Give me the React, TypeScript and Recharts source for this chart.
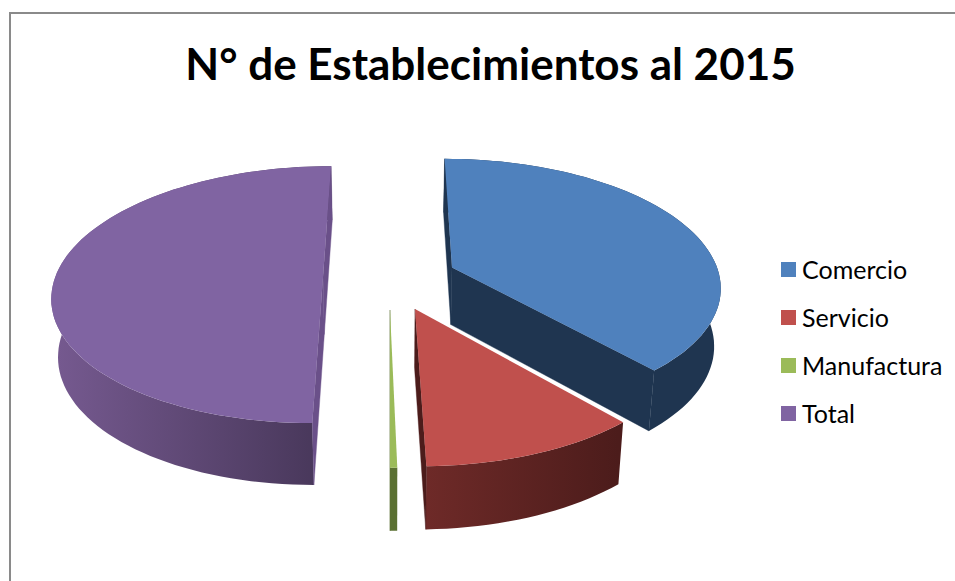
import { Legend, Pie, PieChart } from 'recharts'

const categories = ['Comercio', 'Servicio', 'Manufactura', 'Total']
const values = [38.5, 11.14, 0.36, 50]
const topColors = ['#4f81bd', '#c0504d', '#9bbb59', '#8064a2']
const wallLeft = ['#1f3550', '#6e2a28', '#5a7032', '#75598f']
const wallRight = ['#1f3550', '#4c1c1b', '#5a7032', '#463658']
const cutColors = ['#1f3550', '#4c1c1b', '#5a7032', '#6a5089']
// where each slice's point sits on screen once exploded
const apexX = [452, 415, 390, 323]
const apexY = [267.5, 309, 310, 277]

const chartData = categories.map((name, i) => ({ name, value: values[i], fill: topColors[i] }))

const TILT = 0.48
const PERSPECTIVE = 0.14
const DEPTH = 58
const BOTTOM_SHRINK = 0.98

function SliceShape(props: any) {
  const { cx, cy, outerRadius: R, startAngle, endAngle, index } = props

  const project = (x: number, y: number, down: boolean) => {
    const d = 1 - (PERSPECTIVE * y) / R
    const sx = cx + x / d
    const sy = cy + (TILT * y) / d
    if (!down) return [sx, sy]
    return [cx + (sx - cx) * BOTTOM_SHRINK, sy + DEPTH / Math.sqrt(d)]
  }

  // back from screen to the ground plane, to place the slice point
  const dy = apexY[index] - cy
  const ay = dy / (TILT + (PERSPECTIVE * dy) / R)
  const ax = (apexX[index] - cx) * (1 - (PERSPECTIVE * ay) / R)

  const t0 = 90 - startAngle
  const t1 = 90 - endAngle
  const steps = Math.max(2, Math.ceil(Math.abs(t1 - t0) / 2))
  const rim: [number, number][] = []
  for (let i = 0; i <= steps; i++) {
    const t = ((t0 + ((t1 - t0) * i) / steps) * Math.PI) / 180
    rim.push([ax + R * Math.sin(t), ay - R * Math.cos(t)])
  }

  const toPath = (pts: number[][]) => 'M' + pts.map((p) => `${p[0].toFixed(1)},${p[1].toFixed(1)}`).join('L') + 'Z'
  const rimTop = rim.map((p) => project(p[0], p[1], false))
  const rimBottom = rim.map((p) => project(p[0], p[1], true))
  const apexTop = project(ax, ay, false)
  const apexBottom = project(ax, ay, true)
  const last = rim.length - 1
  const mid = Math.floor(last / 2)
  const xs = rimBottom.map((p) => p[0])
  const gradId = `wall-${index}`

  // a cut face only shows when the lowered point falls outside the top face
  const side = (a: number[], b: number[], c: number[]) =>
    (b[0] - a[0]) * (c[1] - a[1]) - (b[1] - a[1]) * (c[0] - a[0])
  const showsCut = (edge: number[], inner: number[]) =>
    side(apexTop, edge, inner) * side(apexTop, edge, apexBottom) < 0
  const cuts = [
    { edge: 0, inner: mid === 0 ? 1 : mid },
    { edge: last, inner: mid === last ? 0 : mid },
  ].filter((c) => showsCut(rimTop[c.edge], rimTop[c.inner]))

  return (
    <g>
      <defs>
        <linearGradient
          id={gradId}
          gradientUnits="userSpaceOnUse"
          x1={Math.min(...xs)}
          x2={Math.max(...xs)}
          y1={0}
          y2={0}
        >
          <stop offset="0%" stopColor={wallLeft[index]} />
          <stop offset="100%" stopColor={wallRight[index]} />
        </linearGradient>
      </defs>
      <path d={toPath([...rimTop, ...[...rimBottom].reverse()])} fill={`url(#${gradId})`} />
      {cuts.map((c) => (
        <path
          key={c.edge}
          d={toPath([apexTop, rimTop[c.edge], rimBottom[c.edge], apexBottom])}
          fill={cutColors[index]}
          stroke={cutColors[index]}
          strokeWidth={0.4}
        />
      ))}
      <path d={toPath([apexTop, ...rimTop])} fill={topColors[index]} />
    </g>
  )
}

function LegendList({ payload }: any) {
  return (
    <div>
      {(payload ?? []).map((entry: any) => (
        <div key={entry.value} style={{ display: 'flex', alignItems: 'center', height: 48 }}>
          <span style={{ width: 15, height: 15, background: entry.color, marginRight: 6 }} />
          <span style={{ fontSize: 25, color: '#000' }}>{entry.value}</span>
        </div>
      ))}
    </div>
  )
}

export default function App() {
  return (
    <div
      style={{
        position: 'absolute',
        left: 0,
        top: 0,
        width: 955,
        height: 581,
        overflow: 'hidden',
        background: '#fff',
        fontFamily: 'Lato, sans-serif',
      }}
    >
      <div
        style={{
          position: 'absolute',
          left: 9,
          top: 12,
          width: 1000,
          height: 600,
          border: '2px solid #8a8a8a',
        }}
      />
      <div
        style={{
          position: 'absolute',
          left: 0,
          top: 33,
          width: 981,
          textAlign: 'center',
          fontSize: 44,
          fontWeight: 700,
          lineHeight: '60px',
          color: '#000',
        }}
      >
        N° de Establecimientos al 2015
      </div>
      <div style={{ position: 'absolute', left: 0, top: 0 }}>
        <PieChart width={955} height={581}>
          <Pie
            data={chartData}
            dataKey="value"
            nameKey="name"
            cx={385}
            cy={290}
            outerRadius={273}
            startAngle={90}
            endAngle={-270}
            stroke="none"
            shape={SliceShape}
            isAnimationActive={false}
          />
          <Legend
            content={LegendList}
            itemSorter={null}
            wrapperStyle={{ position: 'absolute', left: 781, top: 245, width: 174, bottom: 'auto' }}
          />
        </PieChart>
      </div>
    </div>
  )
}
